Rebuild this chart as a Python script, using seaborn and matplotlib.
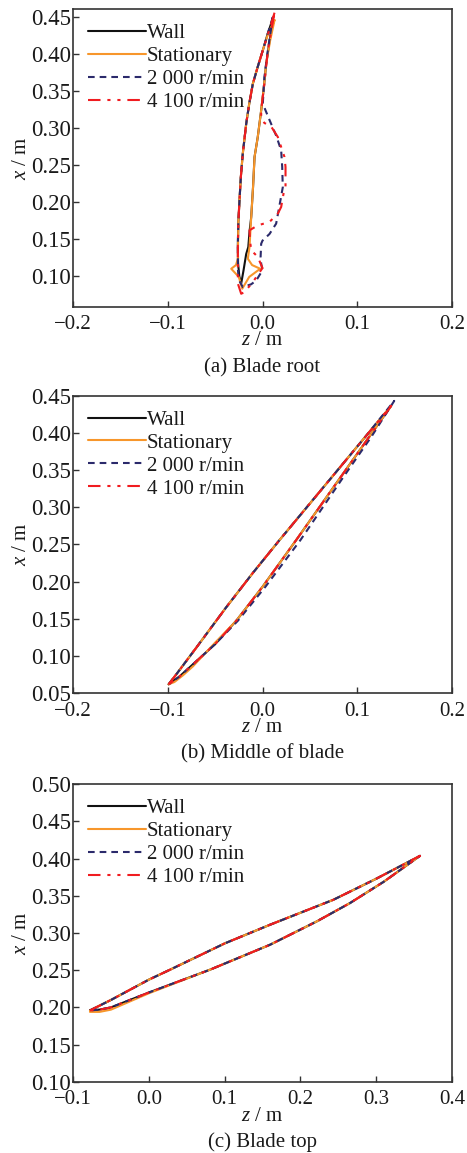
import matplotlib
matplotlib.use("Agg")
import matplotlib.pyplot as plt
from matplotlib.ticker import FuncFormatter
import pandas as pd
import seaborn as sns

# ---- legend entries and styles -------------------------------------------
SERIES = ["Wall", "Stationary", "2 000 r/min", "4 100 r/min"]
COLORS = ["#111111", "#F7962B", "#2B2A6B", "#F01C20"]
DASHES = ["", "", (3.2, 2.4), (6.0, 3.3, 1.5, 3.3, 1.5, 3.3)]

# ---- (a) blade root: section outlines (z, x) in metres ---------------------
ROOT_WALL_Z = [0.0109, 0.0056, 0.0003, -0.0050, -0.0102, -0.0140, -0.0172, -0.0208, -0.0228, -0.0243,
               -0.0255, -0.0260, -0.0258, -0.0245, -0.0225, -0.0200, -0.0172, -0.0150, -0.0137, -0.0119,
               -0.0100, -0.0084, -0.0050, -0.0014, 0.0015, 0.0039, 0.0075, 0.0109]
ROOT_WALL_X = [0.448, 0.428, 0.405, 0.383, 0.360, 0.333, 0.306, 0.2656, 0.235, 0.2024,
               0.172, 0.1438, 0.118, 0.100, 0.090, 0.108, 0.130, 0.1393, 0.160, 0.180,
               0.220, 0.261, 0.288, 0.324, 0.356, 0.387, 0.418, 0.448]

ROOT_STAT_Z = [0.0127, 0.0060, 0.0003, -0.0050, -0.0102, -0.0140, -0.0172, -0.0208, -0.0228, -0.0243,
               -0.0255, -0.0260, -0.0280, -0.0330, -0.0250, -0.0214, -0.0140, -0.0024, -0.0110, -0.0155,
               -0.0137, -0.0128, -0.0119, -0.0100, -0.0084, -0.0050, -0.0014, 0.0015, 0.0039, 0.0080, 0.0127]
ROOT_STAT_X = [0.446, 0.428, 0.405, 0.383, 0.360, 0.333, 0.306, 0.2656, 0.235, 0.2024,
               0.172, 0.1236, 0.115, 0.110, 0.099, 0.083, 0.099, 0.110, 0.115, 0.1236,
               0.1393, 0.160, 0.180, 0.220, 0.261, 0.288, 0.324, 0.356, 0.387, 0.418, 0.446]

ROOT_2000_Z = [0.0109, 0.0056, 0.0003, -0.0050, -0.0102, -0.0140, -0.0172, -0.0208, -0.0228, -0.0243,
               -0.0255, -0.0260, -0.0260, -0.0250, -0.0208, -0.0120, -0.0067, 0.0000, -0.0014, -0.0020,
               -0.0014, 0.0000, 0.0074, 0.0144, 0.0180, 0.0214, 0.0208, 0.0197, 0.0144, 0.0074,
               0.0003, 0.0020, 0.0056, 0.0109]
ROOT_2000_X = [0.450, 0.428, 0.405, 0.383, 0.360, 0.333, 0.306, 0.2656, 0.235, 0.2024,
               0.172, 0.1438, 0.110, 0.095, 0.0852, 0.089, 0.094, 0.108, 0.117, 0.126,
               0.1438, 0.148, 0.157, 0.171, 0.196, 0.220, 0.2475, 0.270, 0.290, 0.311,
               0.333, 0.369, 0.405, 0.450]

ROOT_4100_Z = [0.0127, 0.0060, 0.0003, -0.0050, -0.0102, -0.0140, -0.0172, -0.0208, -0.0228, -0.0243,
               -0.0255, -0.0260, -0.0260, -0.0260, -0.0225, -0.0190, -0.0102, 0.0000, -0.0050, -0.0119,
               -0.0130, -0.0137, -0.0050, 0.0074, 0.0162, 0.0197, 0.0222, 0.0243, 0.0243, 0.0232,
               0.0162, 0.0092, 0.0020, -0.0014, -0.0014, 0.0020, 0.0056, 0.0127]
ROOT_4100_X = [0.456, 0.428, 0.405, 0.383, 0.360, 0.333, 0.306, 0.2656, 0.235, 0.2024,
               0.172, 0.1438, 0.110, 0.090, 0.0762, 0.0785, 0.092, 0.111, 0.126, 0.135,
               0.146, 0.162, 0.1686, 0.1733, 0.1845, 0.1935, 0.2115, 0.2204, 0.2475, 0.261,
               0.288, 0.302, 0.307, 0.313, 0.324, 0.360, 0.405, 0.456]

# ---- (b) middle of blade ---------------------------------------------------
MID_WALL_Z = [-0.0990, -0.0900, -0.0700, -0.0383, -0.0100, 0.0179, 0.0500, 0.0800, 0.1100, 0.1358,
              0.1100, 0.0800, 0.0355, 0.0000, -0.0277, -0.0500, -0.0735, -0.0880, -0.0990]
MID_WALL_X = [0.062, 0.077, 0.111, 0.1655, 0.212, 0.2558, 0.305, 0.351, 0.397, 0.4364,
              0.390, 0.336, 0.2558, 0.193, 0.1474, 0.116, 0.0887, 0.072, 0.062]

MID_STAT_Z = [-0.0990, -0.0900, -0.0700, -0.0383, -0.0100, 0.0179, 0.0500, 0.0800, 0.1100, 0.1358,
              0.1100, 0.0800, 0.0355, 0.0000, -0.0277, -0.0500, -0.0735, -0.0840, -0.0930, -0.0990]
MID_STAT_X = [0.062, 0.077, 0.111, 0.1655, 0.212, 0.2558, 0.305, 0.351, 0.397, 0.4364,
              0.390, 0.336, 0.2558, 0.193, 0.1474, 0.118, 0.0860, 0.0740, 0.0650, 0.062]

MID_2000_Z = [-0.0990, -0.0900, -0.0700, -0.0383, -0.0100, 0.0179, 0.0500, 0.0800, 0.1100, 0.1390,
              0.1150, 0.0850, 0.0400, 0.0030, -0.0260, -0.0500, -0.0735, -0.0880, -0.0990]
MID_2000_X = [0.062, 0.077, 0.111, 0.1655, 0.212, 0.2558, 0.305, 0.351, 0.397, 0.443,
              0.395, 0.340, 0.2558, 0.193, 0.1474, 0.116, 0.0887, 0.072, 0.062]

MID_4100_Z = [-0.0990, -0.0900, -0.0700, -0.0383, -0.0100, 0.0179, 0.0500, 0.0800, 0.1100, 0.1358,
              0.1100, 0.0800, 0.0355, 0.0000, -0.0277, -0.0500, -0.0735, -0.0880, -0.0990]
MID_4100_X = [0.062, 0.077, 0.111, 0.1655, 0.212, 0.2558, 0.305, 0.351, 0.397, 0.4364,
              0.390, 0.336, 0.2558, 0.193, 0.1474, 0.116, 0.0887, 0.072, 0.062]

# ---- (c) blade top ---------------------------------------------------------
TOP_WALL_Z = [-0.0776, -0.0500, 0.0000, 0.0280, 0.1000, 0.1600, 0.2434, 0.3000, 0.3578,
              0.3100, 0.2654, 0.2215, 0.1600, 0.0807, 0.0000, -0.0500, -0.0650, -0.0776]
TOP_WALL_X = [0.196, 0.210, 0.2373, 0.2507, 0.286, 0.3112, 0.3447, 0.373, 0.4038,
              0.369, 0.3403, 0.3156, 0.2843, 0.2507, 0.220, 0.200, 0.197, 0.196]

TOP_STAT_Z = [-0.0776, -0.0500, 0.0000, 0.0280, 0.1000, 0.1600, 0.2434, 0.3000, 0.3578,
              0.3100, 0.2654, 0.2215, 0.1600, 0.0807, 0.0000, -0.0500, -0.0650, -0.0776]
TOP_STAT_X = [0.196, 0.210, 0.2373, 0.2507, 0.286, 0.3112, 0.3447, 0.373, 0.4038,
              0.369, 0.3403, 0.3156, 0.2843, 0.2507, 0.219, 0.197, 0.194, 0.194]

TOP_2000_Z = [-0.0776, -0.0500, 0.0000, 0.0280, 0.1000, 0.1600, 0.2434, 0.3000, 0.3578,
              0.3100, 0.2654, 0.2215, 0.1600, 0.0807, 0.0000, -0.0500, -0.0650, -0.0776]
TOP_2000_X = [0.196, 0.210, 0.2373, 0.2507, 0.286, 0.3112, 0.3447, 0.373, 0.4038,
              0.369, 0.3403, 0.3156, 0.2843, 0.2507, 0.220, 0.200, 0.197, 0.196]

TOP_4100_Z = [-0.0776, -0.0500, 0.0000, 0.0280, 0.1000, 0.1600, 0.2434, 0.3000, 0.3578,
              0.3100, 0.2654, 0.2215, 0.1600, 0.0807, 0.0000, -0.0500, -0.0650, -0.0776]
TOP_4100_X = [0.196, 0.210, 0.2373, 0.2507, 0.286, 0.3112, 0.3447, 0.373, 0.4038,
              0.369, 0.3403, 0.3156, 0.2843, 0.2507, 0.220, 0.200, 0.197, 0.196]

# ---- panel settings --------------------------------------------------------
CAPTIONS = ["(a) Blade root", "(b) Middle of blade", "(c) Blade top"]
XLIMS = [(-0.2, 0.2), (-0.2, 0.2), (-0.1, 0.4)]
YLIMS = [(0.059, 0.461), (0.05, 0.45), (0.10, 0.50)]
XTICKS = [[-0.2, -0.1, 0.0, 0.1, 0.2], [-0.2, -0.1, 0.0, 0.1, 0.2], [-0.1, 0.0, 0.1, 0.2, 0.3, 0.4]]
YTICKS = [[0.10, 0.15, 0.20, 0.25, 0.30, 0.35, 0.40, 0.45],
          [0.05, 0.10, 0.15, 0.20, 0.25, 0.30, 0.35, 0.40, 0.45],
          [0.10, 0.15, 0.20, 0.25, 0.30, 0.35, 0.40, 0.45, 0.50]]

PANELS = [
    [(ROOT_WALL_Z, ROOT_WALL_X), (ROOT_STAT_Z, ROOT_STAT_X), (ROOT_2000_Z, ROOT_2000_X), (ROOT_4100_Z, ROOT_4100_X)],
    [(MID_WALL_Z, MID_WALL_X), (MID_STAT_Z, MID_STAT_X), (MID_2000_Z, MID_2000_X), (MID_4100_Z, MID_4100_X)],
    [(TOP_WALL_Z, TOP_WALL_X), (TOP_STAT_Z, TOP_STAT_X), (TOP_2000_Z, TOP_2000_X), (TOP_4100_Z, TOP_4100_X)],
]

# ---- style -----------------------------------------------------------------
sns.set_style("ticks")
plt.rcParams["font.family"] = ["Liberation Serif", "DejaVu Serif"]
plt.rcParams["mathtext.fontset"] = "custom"
plt.rcParams["mathtext.rm"] = "Liberation Serif"
plt.rcParams["mathtext.it"] = "Liberation Serif:italic"

TEXT_COLOR = "#1a1a1a"
FS = 15
FS_YTICK = 16.5


def fmt(decimals):
    def _f(v, _pos):
        if abs(v) < 1e-12:
            v = 0.0
        return f"{v:.{decimals}f}".replace("-", "\u2212")
    return FuncFormatter(_f)


fig = plt.figure(figsize=(4.67, 11.53), dpi=100)
W, H = 467.0, 1153.0
AX_LEFT, AX_RIGHT = 73, 452
AX_TOPS = [9, 395.7, 784.3]
AX_H = 297.5

for i, curves in enumerate(PANELS):
    top = AX_TOPS[i]
    ax = fig.add_axes([AX_LEFT / W, 1 - (top + AX_H) / H, (AX_RIGHT - AX_LEFT) / W, AX_H / H])

    frames = []
    for name, (zs, xs) in zip(SERIES, curves):
        frames.append(pd.DataFrame({"z": zs, "x": xs, "series": name}))
    df = pd.concat(frames, ignore_index=True)

    sns.lineplot(
        data=df, x="z", y="x", hue="series", style="series",
        hue_order=SERIES, style_order=SERIES,
        palette=dict(zip(SERIES, COLORS)), dashes=dict(zip(SERIES, DASHES)),
        sort=False, estimator=None, linewidth=1.5, ax=ax,
    )

    ax.set_xlim(*XLIMS[i])
    ax.set_ylim(*YLIMS[i])
    ax.set_xticks(XTICKS[i])
    ax.set_yticks(YTICKS[i])
    ax.xaxis.set_major_formatter(fmt(1))
    ax.yaxis.set_major_formatter(fmt(2))
    ax.tick_params(axis="both", direction="in", length=4, width=1.0,
                   colors="#333333", labelcolor=TEXT_COLOR)
    ax.tick_params(axis="x", pad=6, labelsize=FS)
    ax.tick_params(axis="y", pad=1.5, labelsize=FS_YTICK)
    for sp in ax.spines.values():
        sp.set_linewidth(1.2)
        sp.set_color("#333333")

    ax.set_xlabel(r"$z$ / m", fontsize=FS, color=TEXT_COLOR)
    ax.set_ylabel(r"$x$ / m", fontsize=FS, color=TEXT_COLOR)
    ax.xaxis.set_label_coords(0.5, -0.084)
    ax.yaxis.set_label_coords(-0.111, 0.5)
    ax.text(0.5, -0.2205, CAPTIONS[i], transform=ax.transAxes, ha="center", va="baseline",
            fontsize=FS, color=TEXT_COLOR)

    handles, labels = ax.get_legend_handles_labels()
    ax.legend(handles, labels, loc="upper left", bbox_to_anchor=(0, 1), borderaxespad=0,
              borderpad=0.7, frameon=False, fontsize=FS, handlelength=2.78,
              handletextpad=0.05, labelspacing=0.16, labelcolor=TEXT_COLOR)

fig.savefig("out.png", dpi=100)
